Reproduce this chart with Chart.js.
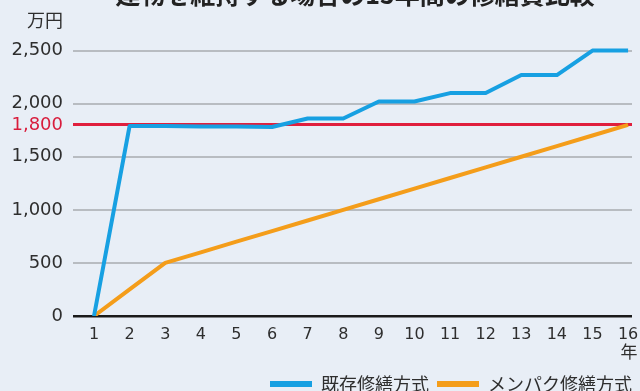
<!DOCTYPE html>
<html lang="ja">
<head>
<meta charset="utf-8">
<title>修繕費比較</title>
<script src="https://cdn.jsdelivr.net/npm/chart.js@4.4.1/dist/chart.umd.min.js"></script>
<style>
  html, body { margin: 0; padding: 0; background: #e8eef6; overflow: hidden; }
  #wrap { position: absolute; left: 0; top: 0; width: 640px; height: 403px; }
</style>
</head>
<body>
<div id="wrap"><canvas id="chart"></canvas></div>
<script>
// Labels and data
const chartTitle = '建物を維持する場合の15年間の修繕費比較';
const yUnit = '万円';
const xUnit = '年';
const years = [1, 2, 3, 4, 5, 6, 7, 8, 9, 10, 11, 12, 13, 14, 15, 16];
const seriesNames = ['既存修繕方式', 'メンパク修繕方式'];
const existingCost = [0, 1790, 1790, 1785, 1785, 1780, 1860, 1860, 2020, 2020, 2100, 2100, 2270, 2270, 2500, 2500];
const menpakuCost = [0, 250, 500, 600, 700, 800, 900, 1000, 1100, 1200, 1300, 1400, 1500, 1600, 1700, 1800];
const yTicks = [0, 500, 1000, 1500, 1800, 2000, 2500];
const budgetLine = 1800;

// Styling
const BLUE = '#17a0e2';
const ORANGE = '#f49d1a';
const RED = '#e01f3d';
const RED_TEXT = '#d81c3c';
const GRID = '#b8bcc1';
const TEXT = '#2e2e2e';

Chart.defaults.font.family = '"DejaVu Sans", "Noto Sans CJK JP", sans-serif';
Chart.defaults.color = TEXT;

const toPoints = (vals) => vals.map((v, i) => ({ x: years[i], y: v }));

// Title and unit captions drawn around the plot
const captions = {
  id: 'captions',
  afterDraw(chart) {
    const { ctx, chartArea } = chart;
    ctx.save();
    ctx.fillStyle = '#222';
    ctx.textBaseline = 'middle';
    ctx.textAlign = 'center';
    ctx.font = 'bold 25px "Noto Sans CJK JP", sans-serif';
    ctx.fillText(chartTitle, 355, -6);

    ctx.fillStyle = TEXT;
    ctx.font = '18px "Noto Sans CJK JP", sans-serif';
    ctx.textAlign = 'right';
    ctx.fillText(yUnit, chartArea.left - 10, 20);

    ctx.font = '17px "Noto Sans CJK JP", sans-serif';
    ctx.textAlign = 'center';
    ctx.fillText(xUnit, 629, 352);
    ctx.restore();
  }
};

new Chart(document.getElementById('chart'), {
  type: 'line',
  data: {
    datasets: [
      {
        label: seriesNames[0],
        data: toPoints(existingCost),
        borderColor: BLUE,
        backgroundColor: BLUE,
        borderWidth: 4,
        pointRadius: 0,
        tension: 0,
        borderJoinStyle: 'round'
      },
      {
        label: seriesNames[1],
        data: toPoints(menpakuCost),
        borderColor: ORANGE,
        backgroundColor: ORANGE,
        borderWidth: 4,
        pointRadius: 0,
        tension: 0,
        borderJoinStyle: 'round'
      }
    ]
  },
  options: {
    responsive: true,
    maintainAspectRatio: false,
    animation: false,
    devicePixelRatio: 1,
    layout: { padding: { top: 40, right: 0, bottom: 0, left: 0 } },
    plugins: {
      title: { display: false },
      tooltip: { enabled: false },
      legend: {
        position: 'bottom',
        align: 'end',
        labels: {
          usePointStyle: true,
          pointStyle: 'line',
          pointStyleWidth: 42,
          padding: 8,
          color: TEXT,
          font: { size: 18, family: '"Noto Sans CJK JP", sans-serif' },
          generateLabels(chart) {
            const items = Chart.defaults.plugins.legend.labels.generateLabels(chart);
            items.forEach(it => { it.lineWidth = 6; it.lineCap = 'butt'; });
            return items;
          }
        }
      }
    },
    scales: {
      x: {
        type: 'linear',
        min: 0.41,
        max: 16.11,
        afterBuildTicks: s => { s.ticks = years.map(v => ({ value: v })); },
        ticks: {
          autoSkip: false,
          maxRotation: 0,
          padding: 0,
          color: TEXT,
          font: { size: 16, lineHeight: 2.3 },
          callback: v => String(v)
        },
        grid: { display: false, drawTicks: false },
        border: { display: false },
        afterFit: s => { s.height = 51; }
      },
      y: {
        min: 0,
        max: 2600,
        afterBuildTicks: s => { s.ticks = yTicks.map(v => ({ value: v })); },
        ticks: {
          padding: 10,
          font: { size: 18 },
          color: c => (c.tick && c.tick.value === budgetLine ? RED_TEXT : TEXT),
          callback: v => v.toLocaleString('en-US')
        },
        grid: {
          drawTicks: false,
          color: c => {
            const v = c.tick && c.tick.value;
            if (v === 0) return '#1a1a1a';
            if (v === budgetLine) return RED;
            return GRID;
          },
          lineWidth: c => {
            const v = c.tick && c.tick.value;
            if (v === 0) return 2.5;
            if (v === budgetLine) return 3;
            return 2;
          }
        },
        border: { display: false },
        afterFit: s => { s.width = 73; }
      },
      yRight: {
        type: 'linear',
        position: 'right',
        min: 0,
        max: 1,
        ticks: { display: false },
        grid: { display: false },
        border: { display: false },
        afterFit: s => { s.width = 8; }
      }
    }
  },
  plugins: [captions]
});
</script>
</body>
</html>
